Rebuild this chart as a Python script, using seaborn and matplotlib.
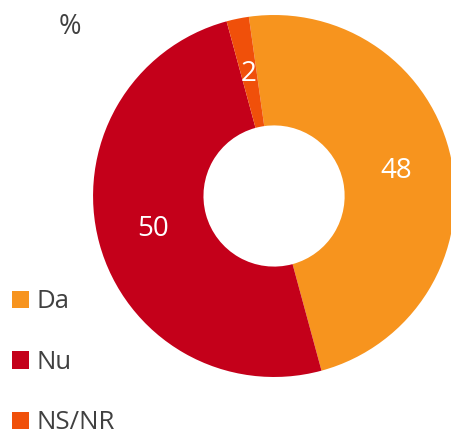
import matplotlib
matplotlib.use("Agg")
import matplotlib.pyplot as plt
import seaborn as sns
from matplotlib.patches import Patch

# Date
categorii = ["Da", "Nu", "NS/NR"]
procente = [48, 50, 2]
culori = ["#F7941E", "#C4001A", "#F0500A"]

sns.set_theme(style="white")
plt.rcParams["font.family"] = ["Open Sans", "DejaVu Sans"]

fig = plt.figure(figsize=(4.52, 4.40), dpi=100)
ax = fig.add_axes([0.2058, 0.1432, 0.801, 0.8227])

wedges, texts = ax.pie(
    procente,
    colors=sns.color_palette(culori),
    startangle=98,
    counterclock=False,
    labels=[str(v) for v in procente],
    labeldistance=0.69,
    wedgeprops=dict(width=0.61, linewidth=0),
    textprops=dict(color="white", fontsize=20, ha="center", va="center"),
)
ax.set_xlim(-1, 1)
ax.set_ylim(-1, 1)
ax.set_aspect("equal")
ax.axis("off")

fig.text(0.155, 0.938, "%", fontsize=19.5, color="#404040", ha="center", va="center")

handles = [Patch(facecolor=c, edgecolor="none") for c in culori]
leg = fig.legend(
    handles, categorii,
    loc="upper left", bbox_to_anchor=(0.02, 0.348),
    frameon=False, fontsize=18.5,
    handlelength=0.66, handleheight=0.66, handletextpad=0.31,
    labelspacing=1.38, borderaxespad=0, borderpad=0.1,
)
for t in leg.get_texts():
    t.set_color("#404040")

fig.savefig("out.png", dpi=100)
